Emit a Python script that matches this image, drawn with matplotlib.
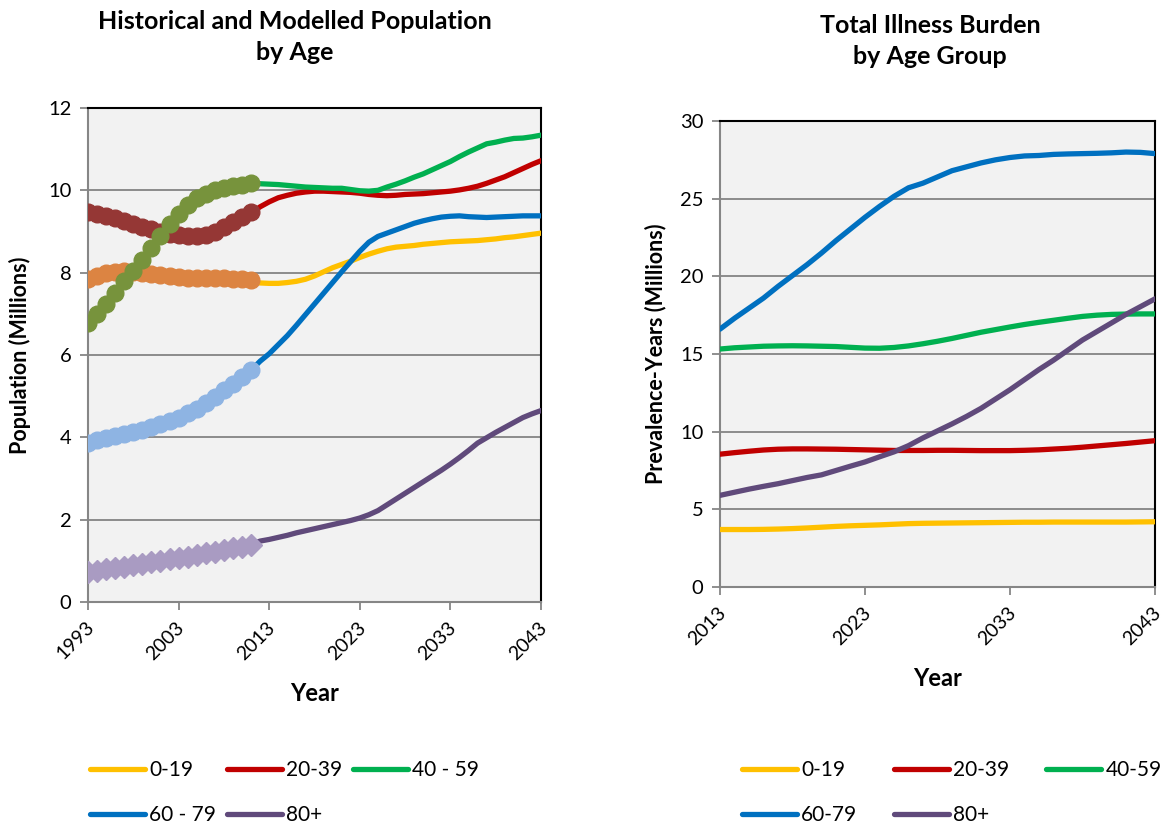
import matplotlib.pyplot as plt
from matplotlib.transforms import ScaledTranslation

plt.rcParams['font.family'] = ['Lato', 'DejaVu Sans']

# historical population (millions), 1993-2011
hist_years = list(range(1993, 2012))
hist_0_19 = [7.85, 7.93, 7.98, 8.02, 8.03, 8.02, 8.00, 7.97, 7.95, 7.93,
             7.90, 7.88, 7.87, 7.86, 7.86, 7.86, 7.85, 7.84, 7.83]
hist_20_39 = [9.48, 9.43, 9.38, 9.32, 9.25, 9.18, 9.10, 9.05, 9.00, 8.95,
              8.92, 8.90, 8.90, 8.92, 8.98, 9.10, 9.22, 9.35, 9.47]
hist_40_59 = [6.78, 7.00, 7.25, 7.50, 7.80, 8.05, 8.30, 8.60, 8.90, 9.18,
              9.42, 9.65, 9.82, 9.92, 10.00, 10.05, 10.10, 10.14, 10.17]
hist_60_79 = [3.87, 3.93, 3.98, 4.03, 4.08, 4.13, 4.19, 4.25, 4.32, 4.40,
              4.48, 4.58, 4.70, 4.83, 4.98, 5.14, 5.30, 5.47, 5.63]
hist_80 = [0.72, 0.76, 0.79, 0.83, 0.86, 0.90, 0.93, 0.97, 1.00, 1.04,
           1.07, 1.10, 1.14, 1.18, 1.22, 1.26, 1.30, 1.34, 1.38]

# modelled population (millions), 2011-2043
proj_years = list(range(2011, 2044))
proj_0_19 = [7.78, 7.75, 7.74, 7.74, 7.76, 7.79, 7.84, 7.92, 8.02, 8.12,
             8.20, 8.28, 8.37, 8.45, 8.52, 8.58, 8.62, 8.64, 8.66, 8.69,
             8.71, 8.73, 8.75, 8.76, 8.77, 8.78, 8.80, 8.82, 8.85, 8.87,
             8.90, 8.93, 8.96]
proj_20_39 = [9.45, 9.60, 9.72, 9.82, 9.88, 9.93, 9.96, 9.98, 9.98, 9.97,
              9.96, 9.95, 9.93, 9.90, 9.88, 9.87, 9.88, 9.90, 9.91, 9.92,
              9.94, 9.96, 9.98, 10.01, 10.05, 10.10, 10.17, 10.25, 10.33, 10.43,
              10.53, 10.63, 10.72]
proj_40_59 = [10.17, 10.16, 10.15, 10.14, 10.12, 10.10, 10.08, 10.07, 10.06, 10.05,
              10.05, 10.02, 9.99, 9.98, 10.00, 10.08, 10.15, 10.23, 10.32, 10.40,
              10.50, 10.60, 10.70, 10.82, 10.93, 11.03, 11.13, 11.17, 11.22, 11.26,
              11.27, 11.30, 11.34]
proj_60_79 = [5.63, 5.85, 6.03, 6.25, 6.47, 6.72, 6.98, 7.24, 7.50, 7.76,
              8.02, 8.27, 8.52, 8.74, 8.88, 8.96, 9.04, 9.12, 9.20, 9.26,
              9.31, 9.35, 9.37, 9.38, 9.36, 9.35, 9.34, 9.35, 9.36, 9.37,
              9.38, 9.38, 9.38]
proj_80 = [1.40, 1.48, 1.52, 1.57, 1.62, 1.68, 1.73, 1.78, 1.83, 1.88,
           1.93, 1.98, 2.04, 2.12, 2.22, 2.36, 2.50, 2.64, 2.78, 2.92,
           3.06, 3.20, 3.35, 3.51, 3.68, 3.86, 3.99, 4.12, 4.24, 4.36,
           4.48, 4.57, 4.65]

# illness burden (prevalence-years, millions), 2013-2043
burden_years = list(range(2013, 2044))
burden_0_19 = [3.70, 3.70, 3.70, 3.71, 3.73, 3.76, 3.80, 3.85, 3.90, 3.94,
               3.97, 4.00, 4.04, 4.08, 4.10, 4.11, 4.12, 4.13, 4.14, 4.15,
               4.16, 4.17, 4.17, 4.18, 4.18, 4.18, 4.18, 4.18, 4.18, 4.19, 4.20]
burden_20_39 = [8.55, 8.65, 8.74, 8.82, 8.87, 8.89, 8.89, 8.88, 8.87, 8.85,
                8.83, 8.81, 8.79, 8.79, 8.79, 8.80, 8.80, 8.79, 8.78, 8.78,
                8.78, 8.80, 8.83, 8.88, 8.93, 9.00, 9.08, 9.16, 9.24, 9.33, 9.42]
burden_40_59 = [15.32, 15.40, 15.45, 15.50, 15.52, 15.53, 15.52, 15.50, 15.48, 15.43,
                15.38, 15.37, 15.42, 15.52, 15.66, 15.82, 16.00, 16.20, 16.40, 16.57,
                16.74, 16.90, 17.04, 17.17, 17.30, 17.42, 17.50, 17.55, 17.57, 17.58, 17.58]
burden_60_79 = [16.60, 17.30, 17.95, 18.60, 19.35, 20.05, 20.75, 21.50, 22.30, 23.05,
                23.80, 24.50, 25.15, 25.70, 26.00, 26.40, 26.80, 27.05, 27.30, 27.50,
                27.65, 27.75, 27.78, 27.85, 27.88, 27.90, 27.92, 27.95, 28.00, 27.98, 27.90]
burden_80 = [5.90, 6.10, 6.30, 6.48, 6.65, 6.85, 7.05, 7.22, 7.50, 7.78,
             8.05, 8.38, 8.70, 9.10, 9.60, 10.05, 10.50, 10.98, 11.50, 12.10,
             12.70, 13.35, 14.00, 14.60, 15.25, 15.90, 16.45, 17.00, 17.55, 18.05, 18.55]

line_colors = ['#FFC000', '#C00000', '#00B050', '#0070C0', '#604A7B']
hist_colors = ['#DC8442', '#953735', '#77933C', '#8EB4E3', '#A99BC2']
left_labels = ['0-19', '20-39', '40 - 59', '60 - 79', '80+']
right_labels = ['0-19', '20-39', '40-59', '60-79', '80+']

fig = plt.figure(figsize=(11.63, 8.25), dpi=100)
ax1 = fig.add_axes([88 / 1163, 1 - 602 / 825, 453 / 1163, 494 / 825])
ax2 = fig.add_axes([720 / 1163, 1 - 587 / 825, 435 / 1163, 466 / 825])


def style_axes(ax):
    ax.set_facecolor('#F2F2F2')
    ax.grid(axis='y', color='#8C8C8C', linewidth=1.4)
    ax.set_axisbelow(True)
    for side in ['left', 'bottom']:
        ax.spines[side].set_color('#868686')
        ax.spines[side].set_linewidth(1.5)
    for side in ['top', 'right']:
        ax.spines[side].set_color('black')
        ax.spines[side].set_linewidth(1.5)
    ax.tick_params(axis='both', direction='out', length=6, width=1.3,
                   color='#868686', labelsize=14.5, pad=6)
    ax.tick_params(axis='x', labelsize=14)
    # nudge the rotated year labels a little left so the last one stays inside
    shift = ScaledTranslation(-3 / 100, 0, fig.dpi_scale_trans)
    for lbl in ax.get_xticklabels():
        lbl.set_rotation(45)
        lbl.set_ha('right')
        lbl.set_rotation_mode('anchor')
        lbl.set_transform(lbl.get_transform() + shift)


def row_legend(ax, x0, columnspacing):
    # legend fills column by column, so reorder to read row by row
    handles, labels = ax.get_legend_handles_labels()
    order = [0, 3, 1, 4, 2]
    ax.legend([handles[i] for i in order], [labels[i] for i in order],
              loc='upper left', bbox_to_anchor=(x0 / 1163, 1 - 760 / 825),
              bbox_transform=fig.transFigure, ncol=3, frameon=False, fontsize=15,
              handlelength=2.65, handletextpad=0.2, columnspacing=columnspacing,
              labelspacing=1.2, borderpad=0, borderaxespad=0)


# left panel: historical markers and modelled lines
proj_series = [proj_0_19, proj_20_39, proj_40_59, proj_60_79, proj_80]
hist_series = [hist_0_19, hist_20_39, hist_40_59, hist_60_79, hist_80]
for vals, c, lab in zip(proj_series, line_colors, left_labels):
    ax1.plot(proj_years, vals, color=c, linewidth=3.8, label=lab,
             solid_capstyle='round', zorder=3)
for i in [0, 1, 3, 2]:
    ax1.plot(hist_years, hist_series[i], color=hist_colors[i], marker='o',
             markersize=12, linewidth=3.8, zorder=4)
ax1.plot(hist_years, hist_80, color=hist_colors[4], marker='D',
         markersize=11, linewidth=3.8, zorder=4)

ax1.set_xlim(1993, 2043)
ax1.set_ylim(0, 12)
ax1.set_xticks(range(1993, 2044, 10))
ax1.set_yticks(range(0, 13, 2))
style_axes(ax1)
ax1.set_xlabel('Year', fontsize=17, fontweight='bold', labelpad=14)
ax1.set_ylabel('Population (Millions)', fontsize=15.5, fontweight='bold', labelpad=12)

# right panel: illness burden
burden_series = [burden_0_19, burden_20_39, burden_40_59, burden_60_79, burden_80]
for vals, c, lab in zip(burden_series, line_colors, right_labels):
    ax2.plot(burden_years, vals, color=c, linewidth=3.8, label=lab,
             solid_capstyle='round', zorder=3)
ax2.set_xlim(2013, 2043)
ax2.set_ylim(0, 30)
ax2.set_xticks(range(2013, 2044, 10))
ax2.set_yticks(range(0, 31, 5))
style_axes(ax2)
ax2.set_xlabel('Year', fontsize=17, fontweight='bold', labelpad=14)
ax2.set_ylabel('Prevalence-Years (Millions)', fontsize=15.5, fontweight='bold', labelpad=10)

# titles
fig.text(295 / 1163, 1 - 37 / 825, 'Historical and Modelled Population\nby Age',
         ha='center', va='center', fontsize=18, fontweight='bold', linespacing=1.4)
fig.text(930 / 1163, 1 - 41 / 825, 'Total Illness Burden\nby Age Group',
         ha='center', va='center', fontsize=18, fontweight='bold', linespacing=1.4)

# legends under each panel
row_legend(ax1, 90, 0.5)
row_legend(ax2, 742, 1.75)

fig.savefig('out.png', dpi=100)
